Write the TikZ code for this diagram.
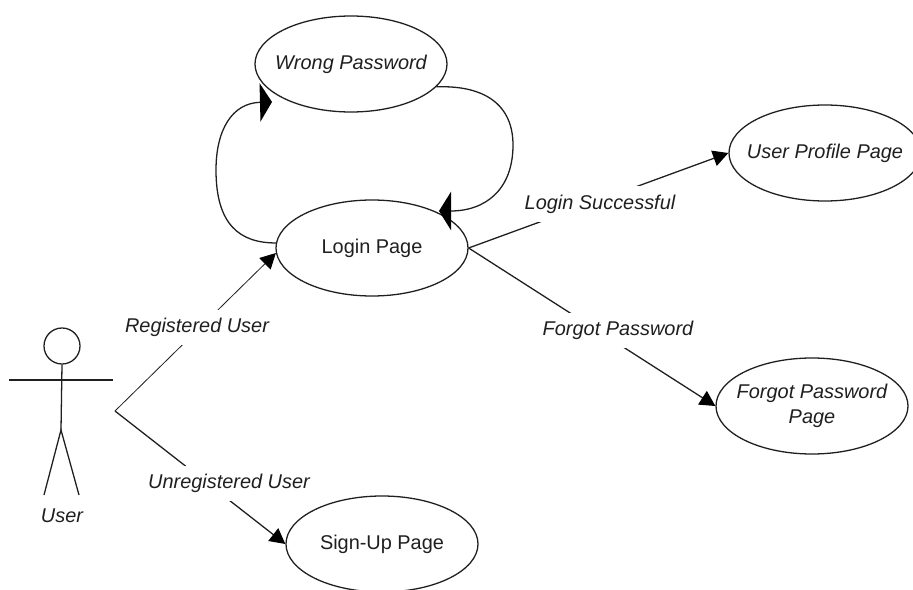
\documentclass[tikz,border=0pt]{standalone}
\usepackage{fontspec}
\setmainfont{Liberation Sans}
\usetikzlibrary{arrows.meta,shapes.geometric}
\newcommand{\diagfont}{\fontsize{17}{21}\selectfont}
\definecolor{inkgray}{gray}{0.12}
\tikzset{
  usecase/.style={ellipse,draw=inkgray,line width=1.1pt,fill=white,minimum width=5.76cm,minimum height=2.88cm,inner xsep=-0.7cm,inner ysep=0pt,align=center,text=inkgray},
  lbl/.style={fill=white,inner sep=0pt,text=inkgray,minimum height=1.05cm,font=\diagfont\itshape},
  conn/.style={draw=inkgray,line width=1.1pt,-{Triangle[length=0.46cm,width=0.48cm,color=black]}},
  loopconn/.style={draw=inkgray,line width=1.1pt,-{Triangle[length=0.36cm,width=1.15cm,color=black]}},
  stick/.style={draw=inkgray,line width=1.1pt}
}
\begin{document}
\begin{tikzpicture}[x=0.03cm,y=-0.03cm,font=\diagfont]
    \useasboundingbox (0,0) rectangle (913,590);
    \clip (0,0) rectangle (913,590);

    % Use cases
    \node[usecase,font=\diagfont\itshape] (wrong) at (351,64) {Wrong Password};
    \node[usecase] (login) at (372,248) {Login Page};
    \node[usecase,font=\diagfont\itshape] (profile) at (825,153) {User Profile Page};
    \node[usecase,font=\diagfont\itshape] (forgot) at (812,406) {Forgot Password\\Page};
    \node[usecase] (signup) at (382,544) {Sign-Up Page};

    % Actor
    \node[circle,draw=inkgray,line width=1.1pt,minimum size=1.08cm,inner sep=0pt] (head) at (62,346) {};
    \coordinate (armL) at (9,380);
    \coordinate (armR) at (113,380);
    \coordinate (hip) at (61,430);
    \coordinate (footL) at (44,495);
    \coordinate (footR) at (79,495);
    \draw[stick] (head.south) -- (hip);
    \draw[stick] (armL) -- (armR);
    \draw[stick] (footL) -- (hip) -- (footR);
    \node[font=\diagfont\itshape,inner sep=0pt,text=inkgray] (user) at (62,516) {User};
    \coordinate (fork) at (115,411);

    % Loop between login and wrong password
    \coordinate (wrongIn) at (272,102);
    \coordinate (loginIn) at (439,211);
    \draw[loopconn] (login.177) .. controls (240,243) and (216,225) .. (216,170)
        .. controls (216,130) and (232,103) .. (wrongIn);
    \draw[loopconn] (wrong.345) .. controls (485,85) and (513,105) .. (513,145)
        .. controls (513,190) and (485,211) .. (loginIn);

    % Arrows
    \draw[conn,line width=0.7pt] (fork) -- (login.183);
    \draw[conn] (fork) -- (signup.west);
    \draw[conn] (login.east) -- (profile.west);
    \draw[conn] (login.east) -- (forgot.west);

    % Labels
    \node[lbl] (regLbl) at (197,327) {Registered User};
    \node[lbl] (unregLbl) at (229,483) {Unregistered User};
    \node[lbl] (okLbl) at (600,204) {Login Successful};
    \node[lbl] (lostLbl) at (618,330) {Forgot Password};
\end{tikzpicture}
\end{document}
